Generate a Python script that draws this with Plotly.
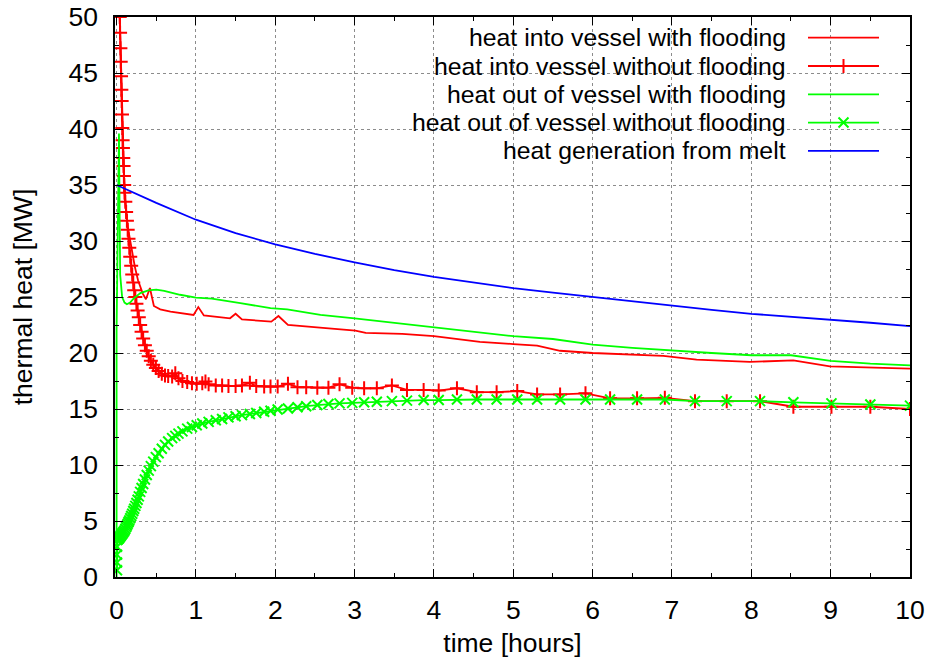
import plotly.graph_objects as go

# ---- heat into vessel, with flooding (hours, MW)
t_in_flood = [0.040, 0.100, 0.140, 0.185, 0.230, 0.270, 0.330, 0.370, 0.420, 0.470,
              0.550, 0.680, 0.850, 0.970, 1.030, 1.100, 1.430, 1.500, 1.580, 1.950,
              2.040, 2.160, 2.600, 3.010, 3.140, 3.600, 4.000, 4.580, 5.000, 5.300,
              5.590, 6.000, 6.890, 7.310, 7.980, 8.530, 8.990, 10.00]
q_in_flood = [50.0, 34.3, 31.3, 29.5, 27.7, 26.5, 25.3, 24.8, 25.8, 24.2,
              23.9, 23.7, 23.5, 23.4, 24.1, 23.35, 23.1, 23.5, 23.0, 22.8,
              23.3, 22.5, 22.25, 22.0, 21.8, 21.7, 21.5, 21.0, 20.8, 20.65,
              20.2, 20.0, 19.75, 19.4, 19.2, 19.35, 18.8, 18.6]

# ---- heat into vessel, without flooding
t_in_noflood = [0.040, 0.044, 0.048, 0.052, 0.056, 0.060, 0.064, 0.068, 0.072, 0.076,
                0.080, 0.084, 0.088, 0.092, 0.096, 0.100, 0.110, 0.120, 0.130, 0.140,
                0.150, 0.160, 0.172, 0.184, 0.197, 0.210, 0.222, 0.236, 0.250, 0.265,
                0.280, 0.297, 0.315, 0.335, 0.357, 0.380, 0.405, 0.432, 0.462, 0.495,
                0.530, 0.570, 0.610, 0.650, 0.700, 0.740, 0.780, 0.830, 0.890, 0.950,
                1.010, 1.080, 1.120, 1.160, 1.250, 1.330, 1.410, 1.500, 1.580, 1.680,
                1.760, 1.860, 1.940, 2.030, 2.160, 2.280, 2.390, 2.530, 2.670, 2.810,
                2.970, 3.120, 3.280, 3.470, 3.660, 3.870, 4.060, 4.290, 4.540, 4.790,
                5.050, 5.300, 5.590, 5.910, 6.220, 6.560, 6.910, 7.290, 7.690, 8.110,
                8.530, 9.010, 9.500, 10.00]
q_in_noflood = [50.0, 48.6, 47.2, 46.0, 44.7, 43.5, 42.5, 41.3, 40.1, 39.0,
                38.3, 37.4, 36.7, 35.8, 35.0, 34.3, 33.5, 32.6, 31.8, 31.0,
                30.2, 29.4, 28.6, 27.8, 27.0, 26.3, 25.6, 25.0, 24.4, 23.8,
                23.2, 22.5, 21.9, 21.3, 20.7, 20.2, 19.7, 19.3, 18.95, 18.65,
                18.4, 18.15, 18.0, 17.95, 17.9, 18.2, 17.75, 17.5, 17.4, 17.3,
                17.25, 17.3, 17.45, 17.2, 17.1, 17.1, 17.05, 17.05, 17.1, 17.35,
                17.05, 17.0, 17.0, 17.0, 17.25, 16.95, 16.95, 16.9, 16.9, 17.2,
                16.9, 16.85, 16.85, 17.1, 16.7, 16.7, 16.65, 16.85, 16.5, 16.5,
                16.6, 16.3, 16.3, 16.4, 15.95, 15.95, 16.0, 15.7, 15.7, 15.7,
                15.2, 15.2, 15.2, 15.0]

# ---- heat out of vessel, with flooding
t_out_flood = [0.000, 0.000, 0.030, 0.045, 0.070, 0.100, 0.130, 0.170, 0.220, 0.300,
               0.400, 0.500, 0.600, 0.800, 1.000, 1.200, 1.560, 1.800, 1.940, 2.150,
               2.570, 3.000, 3.500, 4.000, 4.580, 5.000, 5.500, 6.000, 6.500, 7.000,
               7.500, 8.000, 8.500, 9.000, 9.500, 10.00]
q_out_flood = [0.0, 22.2, 39.6, 27.0, 25.0, 24.5, 24.35, 24.5, 24.9, 25.35,
               25.6, 25.65, 25.55, 25.2, 24.95, 24.85, 24.45, 24.2, 24.0, 23.9,
               23.4, 23.1, 22.7, 22.3, 21.85, 21.5, 21.25, 20.75, 20.45, 20.2,
               20.0, 19.8, 19.8, 19.3, 19.05, 18.9]

# ---- heat out of vessel, without flooding
t_out_noflood = [0.005, 0.005, 0.005, 0.005, 0.005, 0.012, 0.020, 0.030, 0.040, 0.050,
                 0.060, 0.070, 0.080, 0.090, 0.100, 0.110, 0.120, 0.130, 0.140, 0.150,
                 0.160, 0.172, 0.184, 0.197, 0.210, 0.222, 0.236, 0.250, 0.265, 0.280,
                 0.297, 0.315, 0.335, 0.357, 0.380, 0.405, 0.432, 0.462, 0.495, 0.530,
                 0.570, 0.610, 0.650, 0.700, 0.740, 0.780, 0.830, 0.890, 0.950, 1.010,
                 1.080, 1.160, 1.250, 1.330, 1.410, 1.500, 1.580, 1.680, 1.760, 1.860,
                 1.940, 2.030, 2.160, 2.280, 2.390, 2.530, 2.670, 2.810, 2.970, 3.120,
                 3.280, 3.470, 3.660, 3.870, 4.060, 4.290, 4.540, 4.790, 5.050, 5.300,
                 5.590, 5.910, 6.220, 6.560, 6.910, 7.290, 7.690, 8.110, 8.530, 9.010,
                 9.500, 10.00]
q_out_noflood = [0.6, 1.3, 2.0, 2.7, 3.3, 3.35, 3.4, 3.45, 3.55, 3.65,
                 3.75, 3.85, 3.95, 4.05, 4.15, 4.3, 4.45, 4.6, 4.75, 4.9,
                 5.05, 5.25, 5.45, 5.65, 5.9, 6.1, 6.35, 6.6, 6.9, 7.2,
                 7.6, 7.95, 8.3, 8.7, 9.1, 9.5, 9.9, 10.3, 10.7, 11.05,
                 11.45, 11.8, 12.1, 12.4, 12.6, 12.8, 13.0, 13.25, 13.4, 13.55,
                 13.7, 13.85, 14.0, 14.1, 14.25, 14.35, 14.45, 14.55, 14.65, 14.75,
                 14.85, 14.95, 15.05, 15.15, 15.25, 15.35, 15.45, 15.5, 15.55, 15.6,
                 15.65, 15.7, 15.75, 15.8, 15.8, 15.85, 15.85, 15.85, 15.85, 15.85,
                 15.85, 15.85, 15.85, 15.85, 15.85, 15.7, 15.7, 15.7, 15.6, 15.5,
                 15.4, 15.3]

# ---- heat generation from melt
t_gen = [0.0, 0.5, 1.0, 1.5, 2.0, 2.5, 3.0, 3.5, 4.0, 4.5, 5.0,
         5.5, 6.0, 6.5, 7.0, 7.5, 8.0, 8.5, 9.0, 9.5, 10.0]
q_gen = [35.0, 33.4, 31.9, 30.7, 29.7, 28.85, 28.1, 27.4, 26.8, 26.3, 25.8,
         25.4, 25.0, 24.6, 24.2, 23.85, 23.5, 23.25, 23.0, 22.7, 22.4]

series_names = [
    "heat into vessel with flooding",
    "heat into vessel without flooding",
    "heat out of vessel with flooding",
    "heat out of vessel without flooding",
    "heat generation from melt",
]

RED, GREEN, BLUE = "#ff0000", "#00ff00", "#0000ff"
FONT = "Liberation Sans, Arial, sans-serif"
FS = 26.5        # axis text
FS_KEY = 24.8    # key text
LW = 1.8

styles = [
    dict(color=RED, symbol=None),
    dict(color=RED, symbol="cross-thin"),
    dict(color=GREEN, symbol=None),
    dict(color=GREEN, symbol="x-thin"),
    dict(color=BLUE, symbol=None),
]
data = [
    (t_in_flood, q_in_flood),
    (t_in_noflood, q_in_noflood),
    (t_out_flood, q_out_flood),
    (t_out_noflood, q_out_noflood),
    (t_gen, q_gen),
]


def marker_style(st):
    return dict(symbol=st["symbol"], size=10, color=st["color"],
                line=dict(color=st["color"], width=2))


fig = go.Figure()

for (t, q), st, name in zip(data, styles, series_names):
    kw = dict(mode="lines", line=dict(color=st["color"], width=LW))
    if st["symbol"] is not None:
        kw = dict(mode="lines+markers", line=dict(color=st["color"], width=LW),
                  marker=marker_style(st))
    fig.add_trace(go.Scatter(x=t, y=q, name=name, showlegend=False, **kw))

# key in the upper right: right-aligned labels followed by line samples,
# drawn on a hidden unit overlay axis pair
key_text_x = 0.8465
key_x0, key_x1 = 0.8717, 0.9610
key_rows = [0.9630, 0.9125, 0.8620, 0.8115, 0.7610]
for st, name, ky in zip(styles, series_names, key_rows):
    fig.add_trace(go.Scatter(x=[key_x0, key_x1], y=[ky, ky], xaxis="x2", yaxis="y2",
                             showlegend=False, hoverinfo="skip", mode="lines",
                             line=dict(color=st["color"], width=LW)))
    if st["symbol"] is not None:
        fig.add_trace(go.Scatter(x=[(key_x0 + key_x1) / 2], y=[ky], xaxis="x2", yaxis="y2",
                                 showlegend=False, hoverinfo="skip", mode="markers",
                                 marker=marker_style(st)))
    fig.add_annotation(x=key_text_x, y=ky, xref="paper", yref="paper", text=name,
                       showarrow=False, xanchor="right", yanchor="middle",
                       font=dict(family=FONT, size=FS_KEY, color="black"))

# opaque background behind the key hides the grid there
fig.add_shape(type="rect", xref="paper", yref="paper", x0=0.1447, x1=0.981,
              y0=0.7446, y1=1.0, fillcolor="white", line=dict(width=0), layer="between")

axis_common = dict(
    showline=True, linecolor="black", linewidth=1.5, mirror="allticks",
    ticks="inside", ticklen=8, tickwidth=1, tickcolor="black",
    showgrid=True, gridcolor="#8c8c8c", griddash="dot", gridwidth=1,
    zeroline=False, automargin=False,
    tickfont=dict(family=FONT, size=FS, color="black"),
)

fig.update_layout(
    width=930, height=660,
    margin=dict(l=115, r=20, t=17, b=83, autoexpand=False),
    paper_bgcolor="white", plot_bgcolor="white",
    showlegend=False,
    font=dict(family=FONT, size=FS, color="black"),
    xaxis=dict(range=[-0.02, 10], dtick=1, tick0=0,
               minor=dict(dtick=0.5, ticks="inside", ticklen=4, tickcolor="black", showgrid=False),
               ticklabelstandoff=8,
               title=dict(text="time [hours]", standoff=10,
                          font=dict(family=FONT, size=FS, color="black")),
               **axis_common),
    yaxis=dict(range=[0, 50], dtick=5, tick0=0,
               minor=dict(dtick=2.5, ticks="inside", ticklen=4, tickcolor="black", showgrid=False),
               ticklabelstandoff=10,
               title=dict(text="thermal heat [MW]", standoff=28,
                          font=dict(family=FONT, size=FS, color="black")),
               **axis_common),
    xaxis2=dict(overlaying="x", range=[0, 1], visible=False),
    yaxis2=dict(overlaying="y", range=[0, 1], visible=False),
)

fig.write_html("out.html")
